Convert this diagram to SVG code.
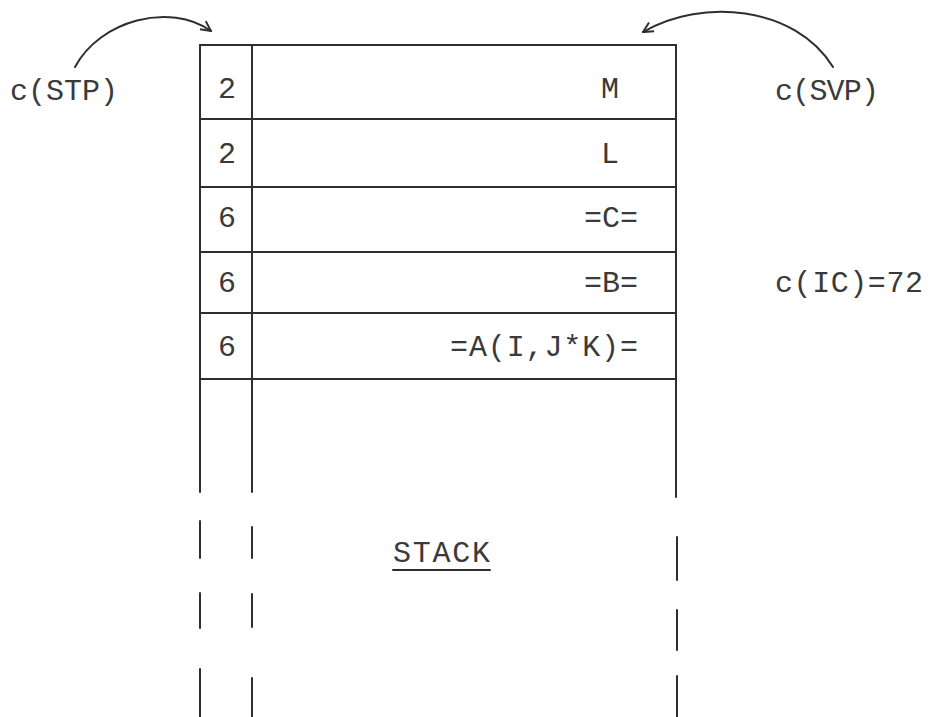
<svg xmlns="http://www.w3.org/2000/svg" width="929" height="717" viewBox="0 0 929 717">
  <style>
    .ln { stroke: #2e2e2e; stroke-width: 2; fill: none; stroke-linecap: round; }
    .tx { font-family: "Liberation Mono", "DejaVu Sans Mono", monospace; font-size: 30px; fill: #3a3a3a; }
    .num { text-anchor: middle; }
  </style>
  <defs>
    <marker id="head" viewBox="0 0 12 12" refX="11" refY="6" markerWidth="12" markerHeight="12" markerUnits="userSpaceOnUse" orient="auto">
      <path d="M1,1 L11,6 L1,11" fill="none" stroke="#2e2e2e" stroke-width="2"/>
    </marker>
  </defs>

  <rect width="929" height="717" fill="#ffffff"/>

  <!-- stack frame -->
  <g id="stack">
    <line class="ln" x1="200" y1="45" x2="676" y2="45"/>
    <line class="ln" x1="200" y1="119" x2="676" y2="119"/>
    <line class="ln" x1="200" y1="187" x2="676" y2="187"/>
    <line class="ln" x1="200" y1="252" x2="676" y2="252"/>
    <line class="ln" x1="200" y1="313" x2="676" y2="313"/>
    <line class="ln" x1="200" y1="379" x2="676" y2="379"/>
    <!-- solid walls -->
    <line class="ln" x1="200" y1="45" x2="200" y2="492"/>
    <line class="ln" x1="252" y1="45" x2="252" y2="492"/>
    <line class="ln" x1="676" y1="45" x2="676" y2="497"/>
    <!-- broken continuation -->
    <line class="ln" x1="200" y1="521" x2="200" y2="558"/>
    <line class="ln" x1="200" y1="593" x2="200" y2="628"/>
    <line class="ln" x1="200" y1="669" x2="200" y2="717"/>
    <line class="ln" x1="252" y1="527" x2="252" y2="558"/>
    <line class="ln" x1="252" y1="594" x2="252" y2="627"/>
    <line class="ln" x1="252" y1="678" x2="252" y2="717"/>
    <line class="ln" x1="677" y1="537" x2="677" y2="580"/>
    <line class="ln" x1="677" y1="610" x2="677" y2="650"/>
    <line class="ln" x1="677" y1="676" x2="677" y2="717"/>
  </g>

  <g id="row-M">
    <text class="tx num" x="227" y="98">2</text>
    <text class="tx" x="601" y="98">M</text>
  </g>
  <g id="row-L">
    <text class="tx num" x="227" y="163">2</text>
    <text class="tx" x="601" y="163">L</text>
  </g>
  <g id="row-C">
    <text class="tx num" x="227" y="227">6</text>
    <text class="tx" x="584" y="227">=C=</text>
  </g>
  <g id="row-B">
    <text class="tx num" x="227" y="292">6</text>
    <text class="tx" x="584" y="292">=B=</text>
  </g>
  <g id="row-A">
    <text class="tx num" x="227" y="356">6</text>
    <text class="tx" x="450" y="356" textLength="188">=A(I,J*K)=</text>
  </g>

  <g id="stack-label">
    <text class="tx" x="393" y="562" textLength="97">STACK</text>
    <line class="ln" x1="393" y1="570" x2="490" y2="570"/>
  </g>

  <g id="stp">
    <text class="tx" x="10" y="100" textLength="108">c(STP)</text>
  </g>
  <g id="svp">
    <text class="tx" x="775" y="100" textLength="104">c(SVP)</text>
  </g>
  <g id="ic">
    <text class="tx" x="775" y="292" textLength="148">c(IC)=72</text>
  </g>

  <!-- pointer arrows -->
  <g id="connectors">
    <path class="ln" d="M75,67 C100,20 170,2 211,31" marker-end="url(#head)"/>
    <path class="ln" d="M833,67 C795,5 700,-2 643,32" marker-end="url(#head)"/>
  </g>
</svg>
